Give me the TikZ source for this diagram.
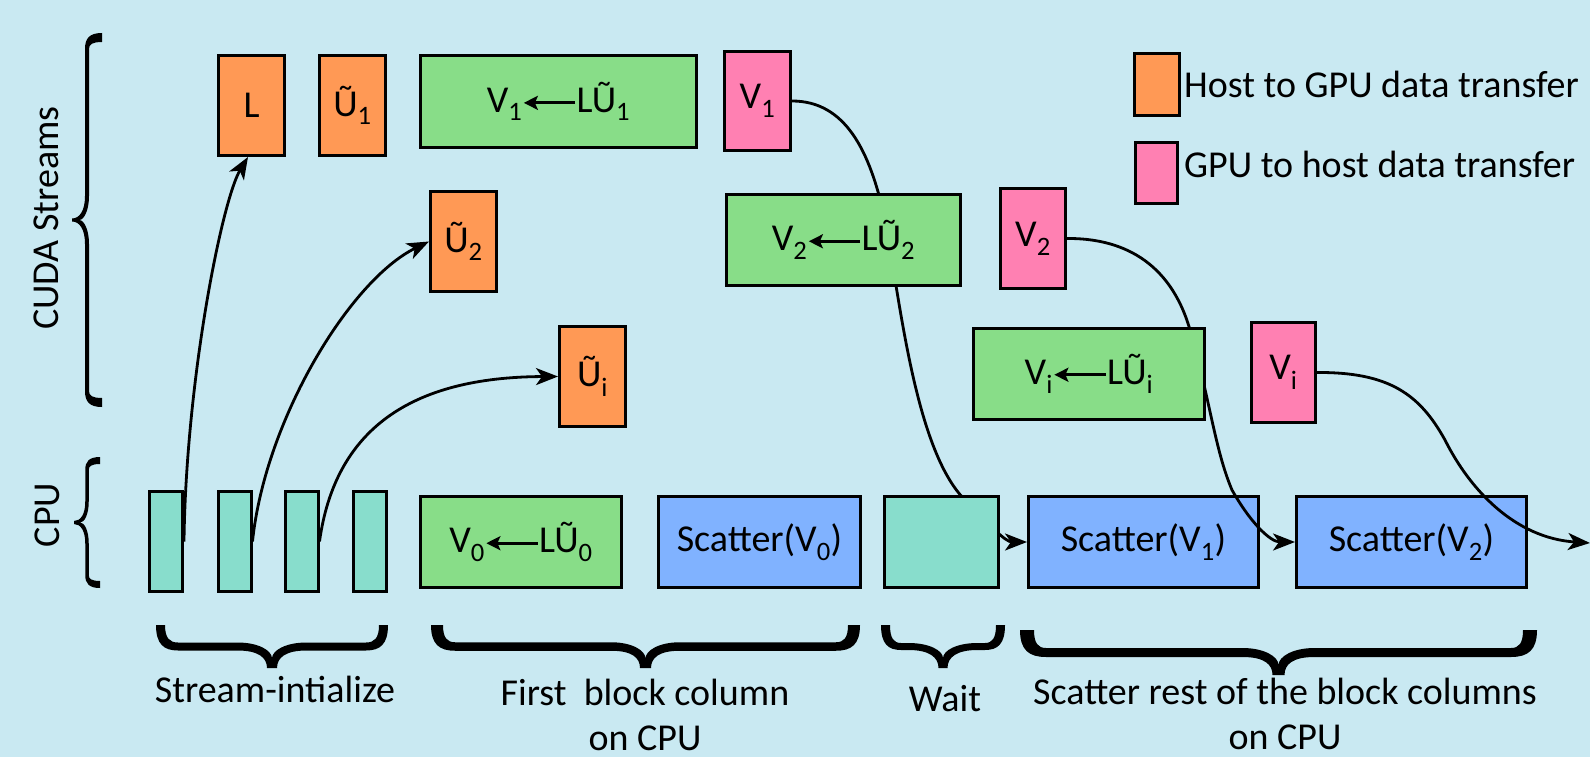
\documentclass[tikz,border=0pt]{standalone}
\usepackage{fontspec}
\setmainfont{Carlito}
\usetikzlibrary{arrows.meta}
\definecolor{bgc}{HTML}{C9E9F2}
\definecolor{orng}{HTML}{FF9955}
\definecolor{grn}{HTML}{88DD88}
\definecolor{pnk}{HTML}{FF80B2}
\definecolor{blu}{HTML}{80B2FF}
\definecolor{tea}{HTML}{88DDCC}
\newcommand\lbl{\fontsize{38}{45}\selectfont}
\newcommand\larr{\tikz[baseline=-0.25em]\draw[line width=3pt,-{Stealth[length=14pt,width=14pt,inset=3pt]}] (1.35em,0) -- (0,0);}
% calligraphic brace in a local frame: u along, v towards the tip
% #1 length, #2 amplitude, #3 end thickness, #4 middle thickness, #5 curl length, #6 tip width
\newcommand\mybrace[6]{%
  \pgfmathsetmacro\zzYb{#2/2+#4/2}%
  \pgfmathsetmacro\zzYt{#2/2-#4/2}%
  \pgfmathsetmacro\zzMid{#1/2}%
  \pgfmathsetmacro\zzRr{0.8*#2}%
  \pgfmathsetmacro\zzNv{\zzYb+0.45*(#2-\zzYb)}%
  \pgfmathsetmacro\zzTw{#6/2}%
  \fill (0,0) .. controls (0,{0.75*\zzYb}) and ({0.35*#5},\zzYb) .. (#5,\zzYb)
   -- ({\zzMid-\zzRr},\zzYb) .. controls ({\zzMid-0.4*\zzRr},\zzYb) and ({\zzMid-\zzTw},{\zzYb+0.4*(#2-\zzYb)}) .. ({\zzMid-\zzTw},#2)
   -- ({\zzMid+\zzTw},#2) .. controls ({\zzMid+\zzTw},{\zzYb+0.4*(#2-\zzYb)}) and ({\zzMid+0.4*\zzRr},\zzYb) .. ({\zzMid+\zzRr},\zzYb)
   -- ({#1-#5},\zzYb) .. controls ({#1-0.35*#5},\zzYb) and (#1,{0.75*\zzYb}) .. (#1,0)
   -- ({#1-#3},0) .. controls ({#1-#3},{0.75*\zzYt}) and ({#1-#3-0.35*(#5-#3)},\zzYt) .. ({#1-#5},\zzYt)
   -- ({\zzMid+\zzRr},\zzYt) .. controls ({\zzMid+0.4*\zzRr},\zzYt) and (\zzMid,{\zzYt+0.5*(\zzNv-\zzYt)}) .. (\zzMid,\zzNv)
   .. controls (\zzMid,{\zzYt+0.5*(\zzNv-\zzYt)}) and ({\zzMid-0.4*\zzRr},\zzYt) .. ({\zzMid-\zzRr},\zzYt)
   -- (#5,\zzYt) .. controls ({#3+0.35*(#5-#3)},\zzYt) and (#3,{0.75*\zzYt}) .. (#3,0) -- cycle;}
\pgfdeclarelayer{back}
\pgfdeclarelayer{mid}
\pgfsetlayers{back,mid,main}
\begin{document}
\begin{tikzpicture}[x=1pt,y=-1pt,
  box/.style={draw=black,line width=3pt,inner sep=0pt,font=\lbl},
  conn/.style={line width=2.8pt},
  tip/.style={-{Stealth[length=22pt,width=17pt,inset=6pt]}},
  lab/.style={font=\lbl,inner sep=0pt,align=center}]
\begin{pgfonlayer}{back}
\fill[bgc] (0,0) rectangle (1590,757);
\node[box,fill=tea,minimum width=33,minimum height=100] (T1) at (166,541.5) {};
\node[box,fill=tea,minimum width=33,minimum height=100] (T2) at (234.5,541.5) {};
\node[box,fill=tea,minimum width=33,minimum height=100] (T3) at (301.5,541.5) {};
\node[box,fill=tea,minimum width=33,minimum height=100] (T4) at (369.5,541.5) {};
\node[box,fill=blu,minimum width=202,minimum height=91] (S0) at (759.5,542) {Scatter(V\textsubscript{0})};
\node[box,fill=blu,minimum width=230,minimum height=91] (S1) at (1143.5,542) {Scatter(V\textsubscript{1})};
\node[box,fill=blu,minimum width=230,minimum height=91] (S2) at (1411.5,542) {Scatter(V\textsubscript{2})};
\end{pgfonlayer}
\useasboundingbox (0,0) rectangle (1590,757);
% stream boxes
\node[box,fill=orng,minimum width=66,minimum height=100] (L) at (251.5,105.5) {L};
\node[box,fill=orng,minimum width=66,minimum height=100] (U1) at (352.5,105.5) {Ũ\textsubscript{1}};
\node[box,fill=grn,minimum width=276,minimum height=92] (G1) at (558.5,101.5) {V\textsubscript{1}\larr LŨ\textsubscript{1}};
\node[box,fill=pnk,minimum width=66,minimum height=99] (P1) at (757.5,101) {V\textsubscript{1}};
\node[box,fill=orng,minimum width=66,minimum height=100] (U2) at (463.5,241.5) {Ũ\textsubscript{2}};
\node[box,fill=grn,minimum width=234,minimum height=91] (G2) at (843.5,240) {V\textsubscript{2}\larr LŨ\textsubscript{2}};
\node[box,fill=pnk,minimum width=65,minimum height=100] (P2) at (1033,238.5) {V\textsubscript{2}};
\node[box,fill=orng,minimum width=66,minimum height=100] (Ui) at (592.5,376.5) {Ũ\textsubscript{i}};
\node[box,fill=grn,minimum width=231,minimum height=91] (Gi) at (1089,374) {V\textsubscript{i}\larr LŨ\textsubscript{i}};
\node[box,fill=pnk,minimum width=64,minimum height=100] (Pi) at (1283.5,372.5) {V\textsubscript{i}};
% cpu boxes
\node[box,fill=grn,minimum width=201,minimum height=91] (G0) at (521,542) {V\textsubscript{0}\larr LŨ\textsubscript{0}};
\node[box,fill=tea,minimum width=114,minimum height=91] (W) at (941.5,542) {};
% legend
\node[box,fill=orng,minimum width=45,minimum height=62] (LO) at (1157,84.5) {};
\node[box,fill=pnk,minimum width=42,minimum height=61] (LP) at (1156.5,173) {};
\node[lab,anchor=base west] (LOt) at (1184,98) {Host to GPU data transfer};
\node[lab,anchor=base west] (LPt) at (1184,178) {GPU to host data transfer};
% connectors
\coordinate (out) at (1590,543);
\begin{pgfonlayer}{mid}
\draw[conn,tip] (T1.east) .. controls (186,380) and (222,200) .. (L.south west -| 248,0);
\draw[conn,tip] (T2.east) .. controls (265,420) and (350,280) .. (U2.west);
\draw[conn,tip] (T3.east) .. controls (335,430) and (410,377) .. (Ui.west);
\draw[conn,tip] (P1.east) .. controls (845,101) and (870,150) .. (885,220)
   .. controls (900,300) and (915,450) .. (965,500)
   .. controls (990,525) and (1005,542) .. (S1.west);
\draw[conn,tip] (P2.east) .. controls (1120,238) and (1170,260) .. (1190,330)
   .. controls (1210,400) and (1215,450) .. (1232,490)
   .. controls (1250,522) and (1270,542) .. (S2.west);
\draw[conn,tip] (Pi.east) .. controls (1390,372) and (1420,395) .. (1445,440)
   .. controls (1470,490) and (1515,538) .. (out);
\end{pgfonlayer}
% braces
\begin{scope}[shift={(102,33)},rotate=-90]\mybrace{374}{30}{9}{4}{16}{3}\end{scope}
\begin{scope}[shift={(100,457)},rotate=-90]\mybrace{131}{26}{7}{3.5}{13}{3}\end{scope}
\node[lab,rotate=90] (cs) at (46,218) {CUDA Streams};
\node[lab,rotate=90] (cpu) at (47,515) {CPU};
\begin{scope}[shift={(156,625)}]\mybrace{232}{43}{9}{8}{22}{10}\end{scope}
\begin{scope}[shift={(431,625)}]\mybrace{429}{43}{12}{8.5}{24}{11}\end{scope}
\begin{scope}[shift={(881,625)}]\mybrace{124}{43}{9}{7}{20}{9}\end{scope}
\begin{scope}[shift={(1020,630)}]\mybrace{517}{45}{14}{9}{26}{12}\end{scope}
\node[lab,anchor=base] (b1) at (275,702) {Stream-intialize};
\node[lab,anchor=base] (b2) at (645,750) {First\ \ block column\\on CPU};
\node[lab,anchor=base] (b3) at (945,711) {Wait};
\node[lab,anchor=base] (b4) at (1285,749) {Scatter rest of the block columns\\on CPU};
\end{tikzpicture}
\end{document}
